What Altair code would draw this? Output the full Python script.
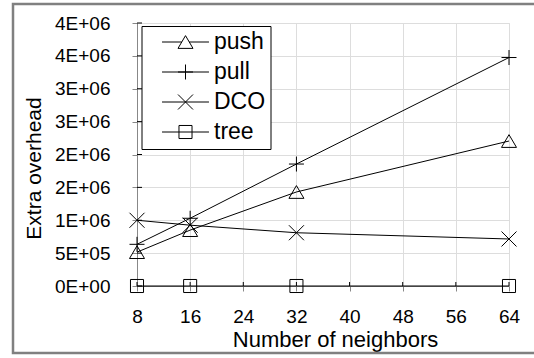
import altair as alt
import pandas as pd

# ---- data ----
neighbors = [8, 16, 32, 64]
series_names = ["push", "pull", "DCO", "tree"]
push = [515000, 850000, 1430000, 2205000]
pull = [634000, 1030000, 1855000, 3475000]
dco = [1000000, 925000, 810000, 715000]
tree = [0, 0, 0, 0]

x_ticks = [8, 16, 24, 32, 40, 48, 56, 64]
y_ticks = [0, 500000, 1000000, 1500000, 2000000, 2500000, 3000000, 3500000, 4000000]
y_tick_labels = ["0E+00", "5E+05", "1E+06", "2E+06", "2E+06", "3E+06", "3E+06", "4E+06", "4E+06"]

rows = []
for name, vals in zip(series_names, [push, pull, dco, tree]):
    for n, v in zip(neighbors, vals):
        rows.append({"neighbors": n, "overhead": v, "series": name})
df = pd.DataFrame(rows)
ytick_df = pd.DataFrame({"overhead": y_ticks})
xtick_df = pd.DataFrame({"neighbors": x_ticks})

FONT = "Liberation Sans"
W, H = 372, 263

# marker shapes (unit box -1..1)
tri = "M0,-0.85L1,0.85L-1,0.85Z"
plus = "M-1,0L1,0M0,-1L0,1"
xmark = "M-1,-1L1,1M-1,1L1,-1"
sq = "M-0.87,-0.87L0.87,-0.87L0.87,0.87L-0.87,0.87Z"
marker_paths = [tri, plus, xmark, sq]
stub_full = "M-3.13,0L3.13,0"
stub_tri = "M-3.13,0L-0.5,0M0.5,0L3.13,0"
legend_paths = [tri + stub_tri, plus + stub_full, xmark + stub_full, sq + stub_full]

# y label expression built from the label list
expr = "''"
for v, l in reversed(list(zip(y_ticks, y_tick_labels))):
    expr = f"datum.value == {v} ? '{l}' : ({expr})"

xscale = alt.Scale(domain=[8, 64], nice=False, zero=False)
yscale = alt.Scale(domain=[0, 4000000], nice=False)
xaxis = alt.Axis(values=x_ticks, format="d", title="Number of neighbors",
                 labelFontSize=19, labelBaseline="alphabetic", labelPadding=31,
                 labelFlush=False,
                 titleFontSize=22, titleFontWeight="normal", titleBaseline="alphabetic",
                 titleY=60, titleX=198, titleAlign="center")
yaxis = alt.Axis(values=y_ticks, labelExpr=expr, title="Extra overhead",
                 labelFontSize=19, labelPadding=22, labelBaseline="middle",
                 labelFlush=False,
                 titleFontSize=21, titleFontWeight="normal", titleBaseline="alphabetic",
                 titleX=-97, titleY=145, titleAlign="center")
xs = alt.X("neighbors:Q", scale=xscale, axis=xaxis)
ys = alt.Y("overhead:Q", scale=yscale, axis=yaxis)

base = alt.Chart(df)

border = alt.Chart(pd.DataFrame({"a": [0]})).mark_rect(
    fillOpacity=0, stroke="#808080", strokeWidth=2.5
).encode(x=alt.value(-124), x2=alt.value(620), y=alt.value(-19), y2=alt.value(330))

yt = alt.Chart(ytick_df).mark_rule(color="black", strokeWidth=1).encode(
    y=ys, x=alt.value(0), x2=alt.value(5))
xt = alt.Chart(xtick_df).mark_rule(color="black", strokeWidth=1).encode(
    x=xs, y=alt.value(H), y2=alt.value(H - 4))

lines = base.mark_line(color="black", strokeWidth=1).encode(x=xs, y=ys, detail="series:N")

points = base.mark_point(filled=False, opacity=1, size=225, strokeWidth=1, color="black").encode(
    x=xs, y=ys,
    shape=alt.Shape("series:N", scale=alt.Scale(domain=series_names, range=marker_paths), legend=None))

legend_layer = base.transform_filter("false").mark_point(
    filled=False, opacity=1, size=225, strokeWidth=1, color="black").encode(
    x=xs, y=ys,
    shape=alt.Shape("series:N", scale=alt.Scale(domain=series_names, range=legend_paths),
                    legend=alt.Legend(title=None, orient="none", legendX=4.5, legendY=3,
                                      padding=4.5, rowPadding=6, strokeColor="black",
                                      fillColor="white", symbolSize=225, symbolStrokeWidth=1,
                                      symbolStrokeColor="black", symbolOffset=28,
                                      labelOffset=17, labelFont=FONT, labelFontSize=23,
                                      labelColor="black")))

chart = alt.layer(border, yt, xt, lines, points, legend_layer).resolve_scale(
    shape="independent"
).properties(
    width=W, height=H,
    autosize=alt.AutoSizeParams(type="none"),
    padding={"left": 137, "top": 23, "right": 25, "bottom": 72},
).configure_view(stroke="#a6a6a6", strokeWidth=1.2).configure_axis(
    grid=False, tickSize=0, domainColor="black", domainWidth=1,
    labelColor="black", titleColor="black", labelFont=FONT, titleFont=FONT,
    titleFontWeight="normal"
).configure(background="white")

chart.save("out.html", embed_options={"renderer": "svg", "actions": False})
